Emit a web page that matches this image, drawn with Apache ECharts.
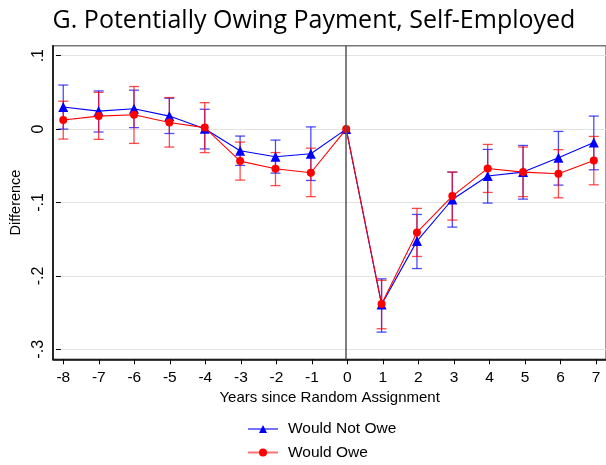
<!DOCTYPE html>
<html>
<head>
<meta charset="utf-8">
<style>
  html, body { margin: 0; padding: 0; background: #fff; }
  #chart { width: 606px; height: 465px; }
</style>
<script src="https://cdn.jsdelivr.net/npm/echarts@6/dist/echarts.min.js"></script>
</head>
<body>
<div id="chart"></div>
<script>
// Years relative to random assignment
const years = [-8, -7, -6, -5, -4, -3, -2, -1, 0, 1, 2, 3, 4, 5, 6, 7];
const xTicks = [-8, -7, -6, -5, -4, -3, -2, -1, 0, 1, 2, 3, 4, 5, 6, 7];
const yTickLabels = { '0.1': '.1', '0': '0', '-0.1': '-.1', '-0.2': '-.2', '-0.3': '-.3' };

// Would Not Owe: estimate and 95% CI
const notOwe     = [0.030, 0.0245, 0.0277, 0.0177, 0.0005, -0.0295, -0.0377, -0.0336, 0, -0.239, -0.1526, -0.0959, -0.064, -0.0586, -0.039, -0.0182];
const notOweLow  = [0.000, -0.004, 0.002, -0.006, -0.027, -0.0495, -0.060, -0.070, null, -0.2766, -0.190, -0.1335, -0.1008, -0.0954, -0.0763, -0.0554];
const notOweHigh = [0.060, 0.052, 0.053, 0.042, 0.027, -0.0095, -0.015, 0.003, null, -0.204, -0.1163, -0.0586, -0.0277, -0.0223, -0.0032, 0.0177];

// Would Owe: estimate and 95% CI
const owe     = [0.0123, 0.0177, 0.0195, 0.009, 0.002, -0.0436, -0.054, -0.0595, 0, -0.2384, -0.1408, -0.0913, -0.0536, -0.0586, -0.0609, -0.0427];
const oweLow  = [-0.0136, -0.014, -0.0195, -0.0245, -0.032, -0.0695, -0.077, -0.092, null, -0.272, -0.1735, -0.124, -0.0863, -0.092, -0.0936, -0.0759];
const oweHigh = [0.038, 0.050, 0.058, 0.043, 0.036, -0.0177, -0.032, -0.026, null, -0.206, -0.108, -0.0586, -0.0209, -0.0245, -0.028, -0.010];

const BLUE = '#0000ff';
const RED = '#ff0000';
const FONT = "'Liberation Sans', Arial, sans-serif";

const pairs = (ys) => years.map((x, i) => [x, ys[i]]);
const ciRows = (lo, hi) => years.map((x, i) => [x, lo[i], hi[i]]).filter(r => r[1] !== null);

function errorBar(color) {
  return function (params, api) {
    const x = api.value(0);
    const lo = api.coord([x, api.value(1)]);
    const hi = api.coord([x, api.value(2)]);
    const hw = 5;
    const st = { stroke: color, lineWidth: 1.3, opacity: 0.7 };
    return {
      type: 'group',
      children: [
        { type: 'line', shape: { x1: lo[0], y1: lo[1], x2: hi[0], y2: hi[1] }, style: st },
        { type: 'line', shape: { x1: lo[0] - hw, y1: lo[1], x2: lo[0] + hw, y2: lo[1] }, style: st },
        { type: 'line', shape: { x1: hi[0] - hw, y1: hi[1], x2: hi[0] + hw, y2: hi[1] }, style: st }
      ]
    };
  };
}

function legendRow(name, top) {
  return {
    left: 247, top: top, padding: 0,
    itemWidth: 30, itemHeight: 10,
    data: [name],
    textStyle: { fontFamily: FONT, fontSize: 15.5, color: '#000', padding: [0, 0, 0, 5] },
    lineStyle: { opacity: 0.55 }
  };
}

const chart = echarts.init(document.getElementById('chart'), null, { renderer: 'canvas' });

const option = {
  animation: false,
  backgroundColor: '#fff',
  title: {
    text: 'G. Potentially Owing Payment, Self-Employed',
    left: 309, top: 3, textAlign: 'center',
    textStyle: { fontFamily: "'Open Sans', sans-serif", fontSize: 25, fontWeight: 'normal', color: '#000' }
  },
  legend: [legendRow('Would Not Owe', 421), legendRow('Would Owe', 444.5)],
  grid: [
    // plot frame and data
    { left: 53, right: -2, top: 45.7, bottom: 105.7, show: true, borderColor: '#777', borderWidth: 1.5 },
    // vertical tick scale
    { left: 53, right: -2, top: 55.7, bottom: 115.7 },
    // horizontal tick scale
    { left: 63.3, right: 10, top: 45.7, bottom: 105.7 }
  ],
  xAxis: [
    { gridIndex: 0, type: 'value', min: -8.29, max: 7.345,
      axisLine: { show: true, onZero: false, lineStyle: { color: '#000', width: 1.5 } },
      axisTick: { show: false }, axisLabel: { show: false }, splitLine: { show: false } },
    { gridIndex: 1, type: 'value', min: -8, max: 7, show: false },
    { gridIndex: 2, type: 'value', min: xTicks[0], max: xTicks[xTicks.length - 1], interval: 1,
      axisLine: { show: false, onZero: false },
      axisTick: { show: true, length: 5, lineStyle: { color: '#000', width: 1 } },
      axisLabel: { margin: 10, fontFamily: FONT, fontSize: 15.5, color: '#000' },
      splitLine: { show: false },
      name: 'Years since Random Assignment', nameLocation: 'middle', nameGap: 29.5,
      nameTextStyle: { fontFamily: FONT, fontSize: 15, color: '#000' } }
  ],
  yAxis: [
    { gridIndex: 0, type: 'value', min: -0.3136, max: 0.1136,
      axisLine: { show: true, onZero: false, lineStyle: { color: '#000', width: 1.5 } },
      axisTick: { show: false }, axisLabel: { show: false }, splitLine: { show: false } },
    { gridIndex: 1, type: 'value', min: -0.3, max: 0.1, interval: 0.1,
      axisLine: { show: false, onZero: false },
      axisTick: { show: true, length: 5, lineStyle: { color: '#000', width: 1 } },
      axisLabel: { rotate: 90, margin: 14, fontFamily: FONT, fontSize: 16, color: '#000',
        formatter: v => yTickLabels[String(Math.round(v * 10) / 10)] ?? String(v) },
      splitLine: { show: true, lineStyle: { color: '#e3e3e3', width: 1.2 } },
      name: 'Difference', nameLocation: 'middle', nameGap: 33, nameRotate: 90,
      nameTextStyle: { fontFamily: FONT, fontSize: 14.5, color: '#000' } },
    { gridIndex: 2, type: 'value', min: -0.3, max: 0.1, show: false }
  ],
  series: [
    { type: 'custom', name: 'ci-not-owe', xAxisIndex: 0, yAxisIndex: 0,
      renderItem: errorBar(BLUE), encode: { x: 0, y: [1, 2] }, data: ciRows(notOweLow, notOweHigh), z: 2 },
    { type: 'custom', name: 'ci-owe', xAxisIndex: 0, yAxisIndex: 0,
      renderItem: errorBar(RED), encode: { x: 0, y: [1, 2] }, data: ciRows(oweLow, oweHigh), z: 2 },
    { type: 'line', name: 'Would Not Owe', xAxisIndex: 0, yAxisIndex: 0,
      data: pairs(notOwe), symbol: 'triangle', symbolSize: 10,
      lineStyle: { color: BLUE, width: 1.1 }, itemStyle: { color: BLUE }, z: 3,
      markLine: { silent: true, symbol: 'none', label: { show: false },
        lineStyle: { color: '#555', width: 1.5, type: 'solid' }, data: [{ xAxis: 0 }] } },
    { type: 'line', name: 'Would Owe', xAxisIndex: 0, yAxisIndex: 0,
      data: pairs(owe), symbol: 'circle', symbolSize: 8,
      lineStyle: { color: RED, width: 1.1 }, itemStyle: { color: RED }, z: 4 }
  ]
};

chart.setOption(option);
</script>
</body>
</html>
